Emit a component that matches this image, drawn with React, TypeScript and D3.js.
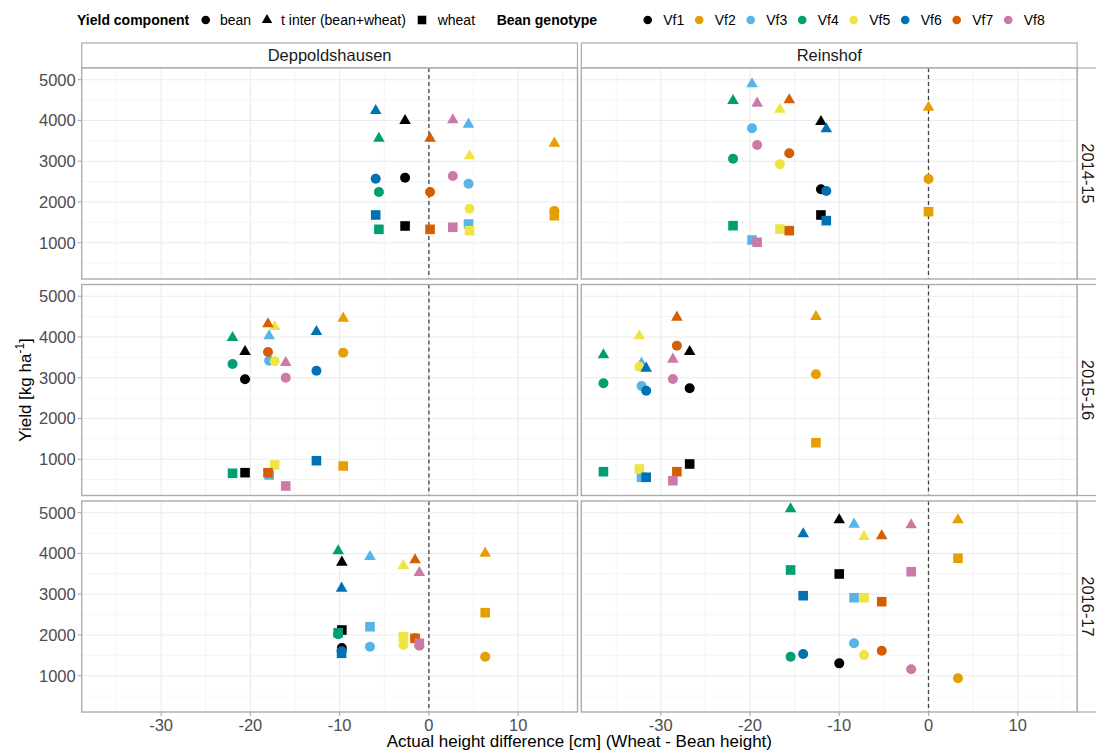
import React from "react";
import * as d3 from "d3";

// ---------- data (panel order: Dep 14-15, Rein 14-15, Dep 15-16, Rein 15-16, Dep 16-17, Rein 16-17) ----------
const genotypes = ["Vf1", "Vf2", "Vf3", "Vf4", "Vf5", "Vf6", "Vf7", "Vf8"];
const genotypeColors = ["#000000", "#E69F00", "#56B4E9", "#009E73", "#F0E442", "#0072B2", "#D55E00", "#CC79A7"];
const sites = ["Deppoldshausen", "Reinshof"];
const years = ["2014-15", "2015-16", "2016-17"];
const components = ["bean", "t inter (bean+wheat)", "wheat"];
const xTicks = [-30, -20, -10, 0, 10];
const xMinor = [-35, -25, -15, -5, 5, 15];
const yTicks = [1000, 2000, 3000, 4000, 5000];
const yMinor = [500, 1500, 2500, 3500, 4500];

// height difference (cm) per panel, genotypes Vf1..Vf8
const heightDiff = [
  [-2.67, 14.06, 4.44, -5.6, 4.55, -5.96, 0.13, 2.68],
  [-12.05, 0, -19.77, -21.9, -16.65, -11.45, -15.6, -19.2],
  [-20.6, -9.6, -17.9, -22.0, -17.27, -12.6, -18.03, -16.04],
  [-26.76, -12.61, -32.15, -36.42, -32.4, -31.63, -28.19, -28.64],
  [-9.75, 6.31, -6.6, -10.16, -2.86, -9.78, -1.55, -1.07],
  [-10.0, 3.3, -8.34, -15.45, -7.22, -14.04, -5.24, -1.94],
];
const beanYield = [
  [2595, 1780, 2448, 2244, 1834, 2571, 2244, 2637],
  [2310, 2563, 3807, 3062, 2924, 2269, 3194, 3397],
  [2961, 3613, 3417, 3336, 3402, 3172, 3631, 3000],
  [2740, 3083, 2796, 2862, 3270, 2681, 3785, 2968],
  [1680, 1466, 1711, 2016, 1753, 1600, 1920, 1735],
  [1303, 936, 1795, 1466, 1508, 1532, 1613, 1157],
];
const interYield = [
  [3994, 3439, 3905, 3561, 3127, 4239, 3561, 4011],
  [3969, 4322, 4894, 4485, 4273, 3790, 4502, 4421],
  [3638, 4458, 4023, 3981, 4251, 4129, 4318, 3368],
  [3638, 4497, 3353, 3557, 4023, 3231, 4482, 3451],
  [3783, 4004, 3920, 4060, 3699, 3145, 3839, 3528],
  [4821, 4821, 4715, 5091, 4411, 4477, 4428, 4698],
];
const wheatYield = [
  [1410, 1662, 1459, 1328, 1295, 1680, 1328, 1378],
  [1680, 1761, 1066, 1418, 1336, 1541, 1295, 1010],
  [669, 833, 612, 654, 857, 963, 669, 342],
  [882, 1405, 556, 693, 759, 556, 693, 472],
  [2121, 2546, 2202, 2055, 1957, 1549, 1917, 1795],
  [3496, 3881, 2914, 3594, 2914, 2963, 2816, 3552],
];

// ---------- layout ----------
const W = 1096;
const H = 753;
const panelLefts = [81.7, 581.3];
const panelW = 495.8;
const panelTops = [68, 284.5, 501];
const panelH = 211;
const stripTop = 43;
const stripRightW = 27;
const font = "'Liberation Sans', Arial, Helvetica, sans-serif";
const gridCol = "#EBEBEB";
const borderCol = "#ABABAB";

const x = d3.scaleLinear().domain([-38.9, 16.65]).range([0, panelW]);
const y = d3.scaleLinear().domain([109, 5287]).range([panelH, 0]);

const symCircle = d3.symbol().type(d3.symbolCircle).size(Math.PI * 5 * 5)();
const symTriangle = d3.symbol().type(d3.symbolTriangle).size((Math.sqrt(3) / 4) * 11.6 * 11.6)();
const symSquare = d3.symbol().type(d3.symbolSquare).size(9.6 * 9.6)();
const legCircle = d3.symbol().type(d3.symbolCircle).size(Math.PI * 4.3 * 4.3)();
const legTriangle = d3.symbol().type(d3.symbolTriangle).size((Math.sqrt(3) / 4) * 10.5 * 10.5)();
const legSquare = d3.symbol().type(d3.symbolSquare).size(8.6 * 8.6)();
const compSymbols = [symCircle, symTriangle, symSquare];
const compLegendSymbols = [legCircle, legTriangle, legSquare];
const compYields = [beanYield, interYield, wheatYield];

function Panel({ idx, col, row }: { idx: number; col: number; row: number }) {
  const left = panelLefts[col];
  const top = panelTops[row];
  const pts: { gx: number; gy: number; comp: number; g: number }[] = [];
  genotypes.forEach((_, g) => {
    components.forEach((__, c) => {
      pts.push({ gx: x(heightDiff[idx][g]), gy: y(compYields[c][idx][g]), comp: c, g });
    });
  });
  return (
    <g transform={`translate(${left},${top})`}>
      <rect x={0} y={0} width={panelW} height={panelH} fill="#fff" />
      {xMinor.filter((v) => v > x.domain()[0] && v < x.domain()[1]).map((v) => (
        <line key={"xm" + v} x1={x(v)} x2={x(v)} y1={0} y2={panelH} stroke="#F2F2F2" strokeWidth={0.8} />
      ))}
      {yMinor.map((v) => (
        <line key={"ym" + v} x1={0} x2={panelW} y1={y(v)} y2={y(v)} stroke="#F2F2F2" strokeWidth={0.8} />
      ))}
      {xTicks.map((v) => (
        <line key={"x" + v} x1={x(v)} x2={x(v)} y1={0} y2={panelH} stroke={gridCol} strokeWidth={1.1} />
      ))}
      {yTicks.map((v) => (
        <line key={"y" + v} x1={0} x2={panelW} y1={y(v)} y2={y(v)} stroke={gridCol} strokeWidth={1.1} />
      ))}
      <line x1={x(0)} x2={x(0)} y1={0} y2={panelH} stroke="#444" strokeWidth={1.3} strokeDasharray="4 3" />
      {pts.map((p, i) => (
        <path key={i} d={compSymbols[p.comp]!} transform={`translate(${p.gx},${p.gy})`} fill={genotypeColors[p.g]} />
      ))}
      <rect x={0} y={0} width={panelW} height={panelH} fill="none" stroke={borderCol} strokeWidth={1.4} />
    </g>
  );
}

export default function App() {
  const legendY = 20;
  const compX = [205.7, 267, 422];
  const compTextX = [220, 281, 437.7];
  const genoX0 = 647.7;
  const genoStep = 51.5;
  const plotRight = panelLefts[1] + panelW;
  return (
    <svg width={W} height={H} style={{ display: "block", position: "absolute", left: 0, top: 0 }} fontFamily={font}>
      <rect width={W} height={H} fill="#fff" />
      {/* legend */}
      <text x={77} y={legendY + 5} fontSize={14} fontWeight="bold" fill="#000">Yield component</text>
      {components.map((c, i) => (
        <g key={c}>
          <path d={compLegendSymbols[i]!} transform={`translate(${compX[i]},${legendY})`} fill="#000" />
          <text x={compTextX[i]} y={legendY + 5} fontSize={14} fill="#000">{c}</text>
        </g>
      ))}
      <text x={496.7} y={legendY + 5} fontSize={14} fontWeight="bold" fill="#000">Bean genotype</text>
      {genotypes.map((g, i) => (
        <g key={g}>
          <path d={legCircle!} transform={`translate(${genoX0 + i * genoStep},${legendY})`} fill={genotypeColors[i]} />
          <text x={genoX0 + i * genoStep + 15.5} y={legendY + 5} fontSize={14} fill="#000">{g}</text>
        </g>
      ))}

      {/* top strips */}
      {sites.map((s, c) => (
        <g key={s}>
          <rect x={panelLefts[c]} y={stripTop} width={panelW} height={panelTops[0] - stripTop} fill="#fff" stroke={borderCol} strokeWidth={1.2} />
          <text x={panelLefts[c] + panelW / 2} y={(stripTop + panelTops[0]) / 2} dy="0.36em" textAnchor="middle" fontSize={16.5} fill="#1A1A1A">{s}</text>
        </g>
      ))}
      {/* right strips */}
      {years.map((yr, r) => (
        <g key={yr}>
          <rect x={plotRight} y={panelTops[r]} width={stripRightW} height={panelH} fill="#fff" stroke={borderCol} strokeWidth={1.2} />
          <text transform={`translate(${plotRight + 11},${panelTops[r] + panelH / 2}) rotate(90)`} dy="0.36em" textAnchor="middle" fontSize={16.5} fill="#1A1A1A">{yr}</text>
        </g>
      ))}

      {/* panels */}
      {years.map((_, r) =>
        sites.map((__, c) => <Panel key={r + "-" + c} idx={r * 2 + c} col={c} row={r} />)
      )}

      {/* y axes */}
      {years.map((_, r) => (
        <g key={"ya" + r} transform={`translate(${panelLefts[0]},${panelTops[r]})`}>
          {yTicks.map((v) => (
            <g key={v}>
              <line x1={-4} x2={0} y1={y(v)} y2={y(v)} stroke={borderCol} strokeWidth={1.1} />
              <text x={-6} y={y(v)} dy="0.36em" textAnchor="end" fontSize={16.5} fill="#4D4D4D">{v}</text>
            </g>
          ))}
        </g>
      ))}
      {/* x axes */}
      {sites.map((_, c) => (
        <g key={"xa" + c} transform={`translate(${panelLefts[c]},${panelTops[2] + panelH})`}>
          {xTicks.map((v) => (
            <g key={v}>
              <line x1={x(v)} x2={x(v)} y1={0} y2={4} stroke={borderCol} strokeWidth={1.1} />
              <text x={x(v)} y={19} textAnchor="middle" fontSize={16.5} fill="#4D4D4D">{v}</text>
            </g>
          ))}
        </g>
      ))}

      {/* axis titles */}
      <text x={(panelLefts[0] + plotRight) / 2} y={747} textAnchor="middle" fontSize={17} fill="#000">
        Actual height difference [cm] (Wheat - Bean height)
      </text>
      <text transform={`translate(30.5,${(panelTops[0] + panelTops[2] + panelH) / 2}) rotate(-90)`} textAnchor="middle" fontSize={17} fill="#000">
        Yield [kg ha<tspan dy={-7} fontSize={12}>-1</tspan><tspan dy={7}>]</tspan>
      </text>
    </svg>
  );
}
